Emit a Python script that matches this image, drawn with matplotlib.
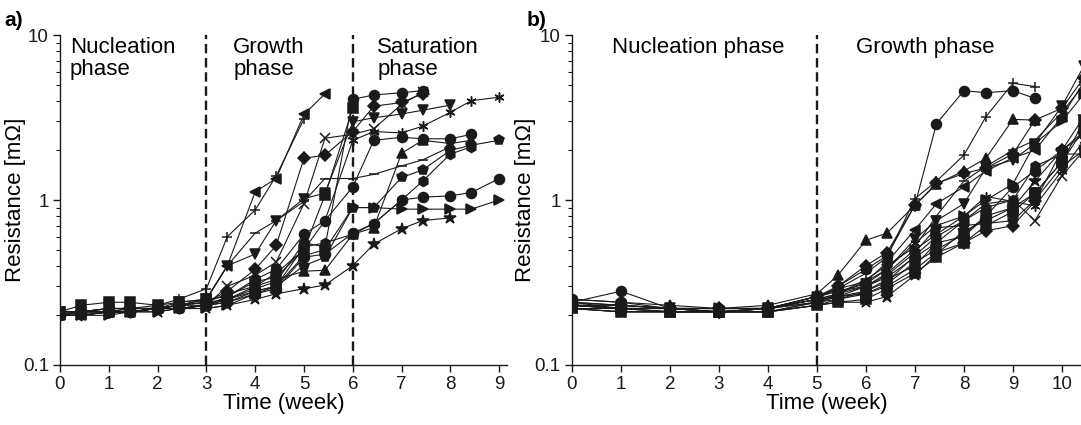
import matplotlib
matplotlib.use('Agg')
import matplotlib.pyplot as plt
from matplotlib.ticker import LogLocator, NullFormatter
import numpy as np

plt.rcParams['font.family'] = ['Liberation Sans', 'DejaVu Sans']

nan = np.nan

# Panel a: measurement times (week)
ta = [0, 0.43, 1, 1.43, 2, 2.43, 3, 3.43, 4, 4.43, 5, 5.43, 6, 6.43, 7, 7.43, 8, 8.43, 9]
series_a = [
    ('<', [0.20, 0.20, 0.21, 0.21, 0.22, 0.23, 0.25, 0.40, 1.12, 1.35, 3.3, 4.4] + [nan] * 7),
    ('+', [0.21, 0.21, 0.22, 0.22, 0.23, 0.25, 0.29, 0.60, 0.87, 1.4, 3.1] + [nan] * 8),
    ('*', [0.20, 0.20, 0.21, 0.21, 0.21, 0.22, 0.22, 0.23, 0.25, 0.27, 0.29, 0.305, 0.40, 0.54, 0.67, 0.75, 0.78, nan, nan]),
    ('>', [0.20, 0.20, 0.20, 0.21, 0.21, 0.22, 0.22, 0.23, 0.27, 0.30, 0.46, 0.50, 0.90, 0.90, 0.88, 0.88, 0.88, 0.88, 1.0]),
    ('o', [0.20, 0.21, 0.21, 0.21, 0.22, 0.22, 0.23, 0.24, 0.27, 0.29, 0.45, 0.47, 0.63, 0.72, 1.0, 1.04, 1.06, 1.11, 1.35]),
    ('p', [0.20, 0.20, 0.21, 0.21, 0.22, 0.22, 0.23, 0.24, 0.28, 0.30, 0.40, 0.45, 0.90, 0.90, 1.37, 1.52, 2.0, 2.15, 2.3]),
    ('^', [0.21, 0.21, 0.21, 0.22, 0.22, 0.23, 0.23, 0.25, 0.30, 0.33, 0.37, 0.375, 0.62, 0.68, 1.92, 2.3, 2.2, 2.3, nan]),
    ('o', [0.20, 0.21, 0.21, 0.21, 0.22, 0.22, 0.23, 0.26, 0.33, 0.38, 0.62, 0.75, 1.2, 2.3, 2.4, 2.35, 2.35, 2.5, nan]),
    ('o', [0.21, 0.21, 0.22, 0.22, 0.22, 0.23, 0.24, 0.25, 0.29, 0.32, 0.55, 0.52, 4.08, 4.33, 4.47, 4.6, nan, nan, nan]),
    ('D', [0.20, 0.21, 0.21, 0.22, 0.22, 0.23, 0.24, 0.28, 0.38, 0.53, 1.79, 1.87, 2.6, 3.7, 3.9, 4.4, nan, nan, nan]),
    ('v', [0.21, 0.21, 0.22, 0.22, 0.22, 0.24, 0.25, 0.40, 0.47, 0.75, 1.02, 1.1, 2.98, 3.15, 3.32, 3.5, 3.76, nan, nan]),
    ((6, 2, 0), [0.20, 0.21, 0.21, 0.21, 0.22, 0.23, 0.24, 0.27, 0.30, 0.36, 0.50, 0.75, 2.3, 2.6, 2.55, 2.8, 3.4, 4.0, 4.2]),
    ('x', [0.20, 0.20, 0.21, 0.21, 0.22, 0.22, 0.23, 0.30, 0.35, 0.42, 0.95, 2.37, 2.5, 2.7, 3.8, 4.5, nan, nan, nan]),
    ('_', [0.21, 0.21, 0.22, 0.22, 0.22, 0.23, 0.25, 0.40, 0.63, 0.75, 0.98, 1.35, 1.35, 1.43, 1.61, 1.75, 2.1, nan, nan]),
    ('s', [0.21, 0.23, 0.24, 0.24, 0.23, 0.24, 0.25, 0.26, 0.32, 0.34, 0.50, 1.07, 3.6, nan, nan, nan, nan, nan, nan]),
    ('h', [0.20, 0.20, 0.21, 0.21, 0.22, 0.22, 0.23, 0.25, 0.28, 0.30, 0.52, 0.55, 0.62, 0.72, 1.0, 1.3, 1.9, 2.1, nan]),
]

# Panel b: measurement times (week)
tb = [0, 1, 2, 3, 4, 5, 5.43, 6, 6.43, 7, 7.44, 8, 8.45, 9, 9.45, 10, 10.45]
series_b = [
    ('o', [0.24, 0.28, 0.22, 0.21, 0.22, 0.25, 0.30, 0.38, 0.46, 0.93, 2.9, 4.6, 4.47, 4.6, 4.13, nan, nan]),
    ('+', [0.23, 0.22, 0.22, 0.21, 0.22, 0.26, 0.29, 0.36, 0.45, 1.02, 1.3, 1.87, 3.2, 5.1, 4.87, nan, nan]),
    ('^', [0.25, 0.24, 0.23, 0.22, 0.23, 0.27, 0.35, 0.57, 0.63, 0.93, 1.25, 1.5, 1.79, 3.08, 3.05, nan, nan]),
    ('D', [0.23, 0.23, 0.22, 0.22, 0.22, 0.26, 0.30, 0.40, 0.48, 0.93, 1.26, 1.45, 1.56, 1.9, 3.05, 3.6, 5.5]),
    ('v', [0.24, 0.23, 0.22, 0.21, 0.22, 0.26, 0.28, 0.31, 0.38, 0.58, 0.75, 0.95, 1.56, 1.75, 2.2, 3.7, 6.5]),
    ('<', [0.22, 0.22, 0.21, 0.21, 0.22, 0.24, 0.27, 0.32, 0.42, 0.66, 0.95, 1.2, 1.5, 1.8, 2.0, 3.2, 5.2]),
    ('>', [0.23, 0.22, 0.22, 0.22, 0.22, 0.25, 0.27, 0.30, 0.36, 0.50, 0.62, 0.80, 1.0, 1.25, 2.2, 3.0, 4.4]),
    ('s', [0.22, 0.21, 0.21, 0.21, 0.21, 0.23, 0.24, 0.25, 0.29, 0.36, 0.45, 0.55, 0.70, 0.85, 1.1, 1.7, 3.0]),
    ('s', [0.23, 0.22, 0.21, 0.21, 0.21, 0.24, 0.25, 0.27, 0.31, 0.42, 0.50, 0.62, 0.80, 0.90, 1.1, 1.7, 2.7]),
    ('*', [0.22, 0.21, 0.21, 0.21, 0.21, 0.23, 0.24, 0.24, 0.26, 0.35, 0.47, 0.65, 0.75, 0.90, 1.3, 2.0, 3.2]),
    ('x', [0.22, 0.21, 0.21, 0.21, 0.21, 0.23, 0.25, 0.28, 0.33, 0.40, 0.55, 0.75, 0.95, 1.0, 0.75, 1.4, 2.0]),
    ((6, 2, 0), [0.24, 0.23, 0.22, 0.22, 0.22, 0.26, 0.29, 0.32, 0.38, 0.55, 0.70, 0.80, 1.05, 0.98, 0.92, 1.5, 2.3]),
    ('o', [0.25, 0.24, 0.22, 0.21, 0.22, 0.26, 0.28, 0.30, 0.34, 0.45, 0.55, 0.60, 0.80, 1.2, 1.5, 2.0, 2.5]),
    ('h', [0.23, 0.23, 0.22, 0.22, 0.22, 0.25, 0.26, 0.28, 0.32, 0.46, 0.60, 0.75, 0.90, 1.0, 1.6, 1.9, 1.9]),
    ('p', [0.24, 0.22, 0.21, 0.21, 0.21, 0.24, 0.26, 0.30, 0.35, 0.48, 0.68, 0.70, 0.72, 0.75, 1.0, 1.6, 2.0]),
    ('_', [0.23, 0.22, 0.22, 0.22, 0.22, 0.25, 0.27, 0.33, 0.40, 0.52, 0.80, 1.3, 1.6, 2.0, 2.3, 3.4, 5.0]),
    ('D', [0.23, 0.22, 0.22, 0.21, 0.22, 0.24, 0.26, 0.27, 0.30, 0.38, 0.48, 0.55, 0.65, 0.70, 0.98, 2.0, 2.6]),
]

ink = '#1a1a1a'


def style_axes(ax, xmax, xticks, ylab_x):
    ax.set_yscale('log')
    ax.set_ylim(0.1, 10)
    ax.set_xlim(0, xmax)
    ax.set_xticks(xticks)
    ax.set_yticks([0.1, 1, 10])
    ax.set_yticklabels(['0.1', '1', '10'])
    ax.yaxis.set_minor_locator(LogLocator(base=10, subs=np.arange(2, 10)))
    ax.yaxis.set_minor_formatter(NullFormatter())
    for s in ['top', 'right']:
        ax.spines[s].set_visible(False)
    for s in ['left', 'bottom']:
        ax.spines[s].set_linewidth(1.0)
        ax.spines[s].set_color(ink)
    ax.tick_params(which='major', length=5, width=1, labelsize=13.5, colors=ink, pad=3)
    ax.tick_params(which='minor', length=3, width=0.8, colors=ink)
    ax.tick_params(axis='x', which='minor', bottom=False)
    ax.set_xlabel('Time (week)', fontsize=16, labelpad=0)
    ax.set_ylabel('Resistance [m\u03a9]', fontsize=16)
    ax.yaxis.set_label_coords(ylab_x, 0.5)


def draw(ax, t, series):
    for m, v in series:
        ms = 7.2
        if m in ('+', 'x', '_'):
            ms = 7.5
        elif m == 'D':
            ms = 6
        elif m == '*':
            ms = 9
        ax.plot(t, v, color=ink, lw=0.8, marker=m, ms=ms, mfc=ink, mec=ink,
                mew=1.1, clip_on=True)


fig = plt.figure(figsize=(10.81, 4.25), dpi=100)

ax1 = fig.add_axes([0.0555, 0.1412, 0.4135, 0.7764])
draw(ax1, ta, series_a)
style_axes(ax1, 9.16, range(10), -0.077)
for xv in [3, 6]:
    ax1.axvline(xv, color=ink, ls=(0, (4, 2)), lw=1.7)
ax1.text(0.2, 9.7, 'Nucleation\nphase', fontsize=16, va='top', ha='left', linespacing=1.05)
ax1.text(3.55, 9.7, 'Growth\nphase', fontsize=16, va='top', ha='left', linespacing=1.05)
ax1.text(6.5, 9.7, 'Saturation\nphase', fontsize=16, va='top', ha='left', linespacing=1.05)

ax2 = fig.add_axes([0.5291, 0.1412, 0.4709, 0.7764])
draw(ax2, tb, series_b)
style_axes(ax2, 10.39, range(11), -0.07)
ax2.axvline(5, color=ink, ls=(0, (4, 2)), lw=1.7)
ax2.text(0.82, 9.7, 'Nucleation phase', fontsize=16, va='top', ha='left')
ax2.text(5.8, 9.7, 'Growth phase', fontsize=16, va='top', ha='left')

fig.text(0.004, 0.975, 'a)', fontsize=15, fontweight='bold', va='top', ha='left')
fig.text(0.487, 0.975, 'b)', fontsize=15, fontweight='bold', va='top', ha='left')

fig.savefig('out.png', dpi=100)
